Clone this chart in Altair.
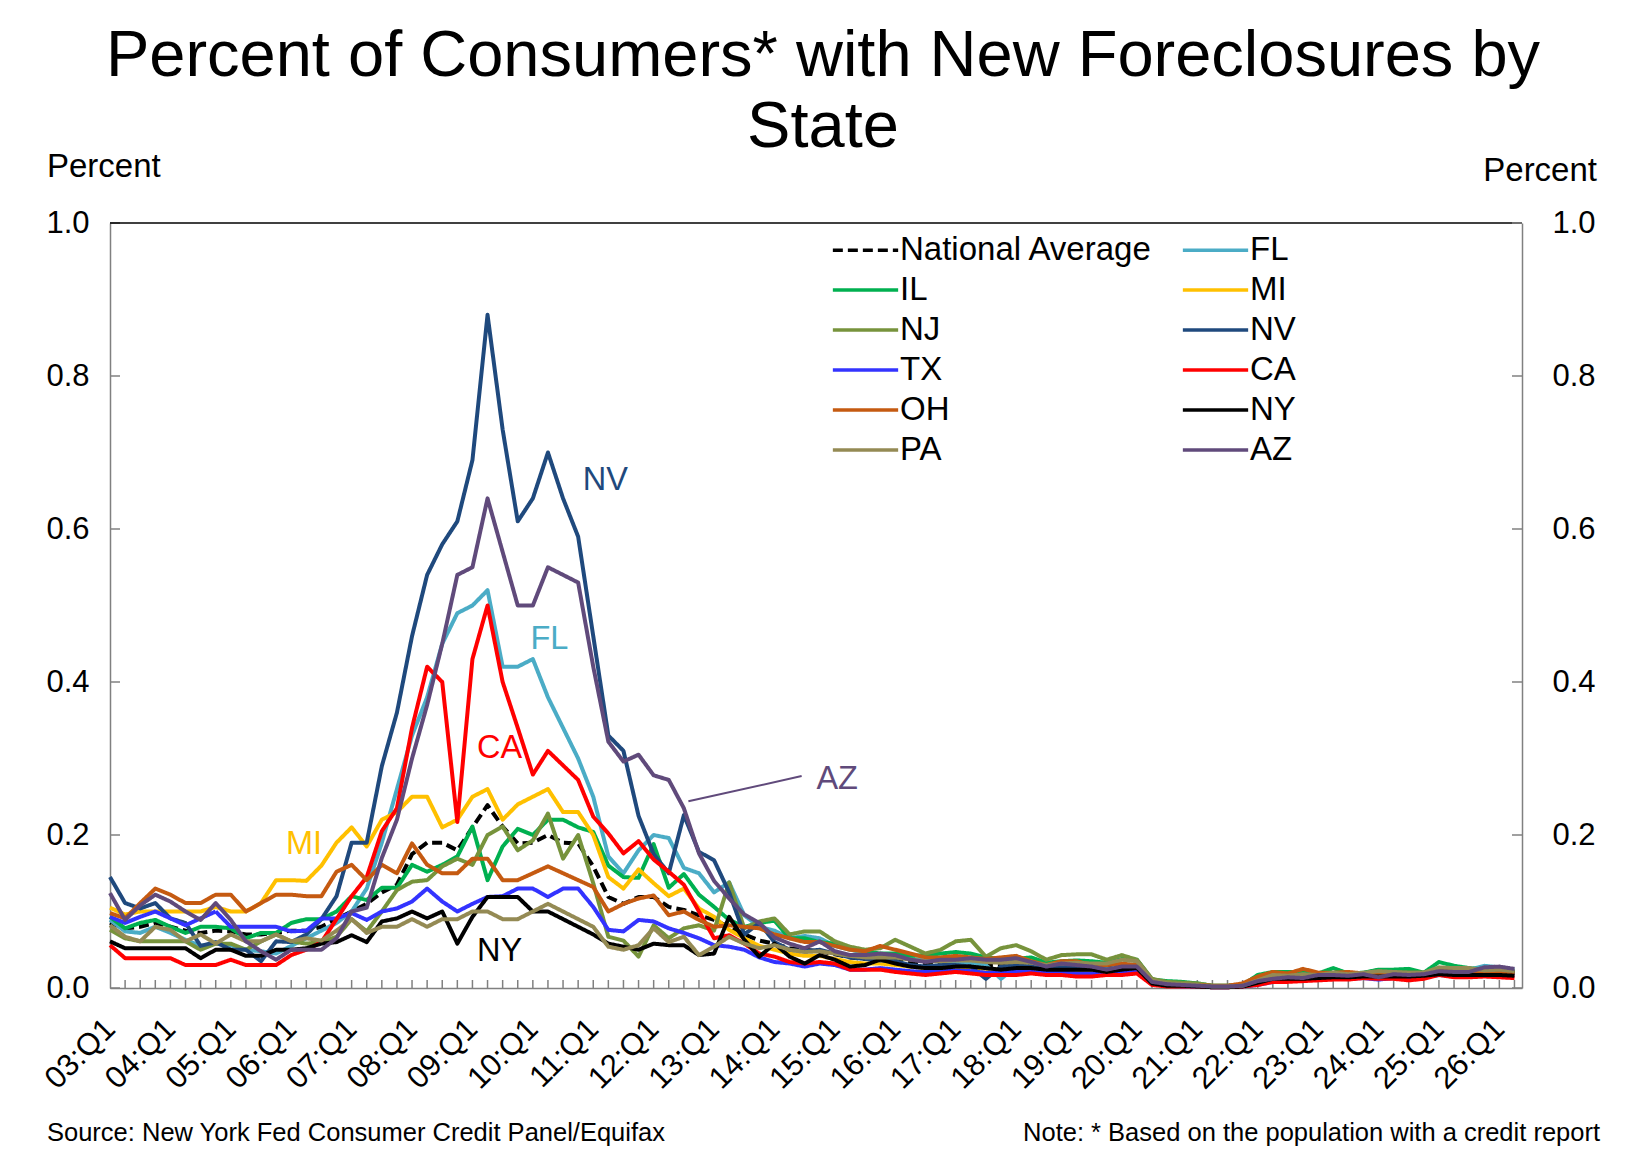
import json
import altair as alt
import pandas as pd

# ---------------- data ----------------
series_names = ["National Average", "FL", "IL", "MI", "NJ", "NV",
                "TX", "CA", "OH", "NY", "PA", "AZ"]
series_colors = ["#000000", "#4BACC6", "#00B050", "#FFC000", "#77933C", "#1F497D",
                 "#3333FF", "#FF0000", "#C55A11", "#000000", "#948A54", "#604A7B"]
series_dash = [[10, 5]] + [[1, 0]] * 11

# quarter index 0 = 03:Q1 ... 93 = 26:Q2
year_labels = ["03:Q1", "04:Q1", "05:Q1", "06:Q1", "07:Q1", "08:Q1", "09:Q1", "10:Q1",
               "11:Q1", "12:Q1", "13:Q1", "14:Q1", "15:Q1", "16:Q1", "17:Q1", "18:Q1",
               "19:Q1", "20:Q1", "21:Q1", "22:Q1", "23:Q1", "24:Q1", "25:Q1", "26:Q1"]
y_ticks = [0.0, 0.2, 0.4, 0.6, 0.8, 1.0]

national = [0.085, 0.078, 0.080, 0.085, 0.080, 0.075, 0.072, 0.075, 0.074, 0.070, 0.070, 0.072, 0.075,
            0.075, 0.080, 0.090, 0.100, 0.110, 0.125, 0.135, 0.175, 0.190, 0.190, 0.180, 0.210, 0.239,
            0.211, 0.189, 0.190, 0.200, 0.190, 0.189, 0.159, 0.119, 0.110, 0.119, 0.119, 0.106, 0.102,
            0.095, 0.089, 0.080, 0.070, 0.062, 0.058, 0.052, 0.050, 0.048, 0.044, 0.040, 0.038, 0.038,
            0.036, 0.034, 0.032, 0.032, 0.033, 0.032, 0.030, 0.030, 0.030, 0.029, 0.027, 0.028, 0.028,
            0.028, 0.027, 0.029, 0.029, 0.008, 0.005, 0.004, 0.003, 0.002, 0.002, 0.003, 0.009, 0.013,
            0.013, 0.014, 0.014, 0.016, 0.015, 0.016, 0.017, 0.017, 0.017, 0.017, 0.021, 0.020, 0.020,
            0.021, 0.021, 0.020]
fl = [0.089, 0.074, 0.072, 0.080, 0.072, 0.063, 0.055, 0.058, 0.056, 0.050, 0.048, 0.045, 0.055,
      0.065, 0.075, 0.085, 0.100, 0.130, 0.190, 0.260, 0.330, 0.380, 0.450, 0.490, 0.500, 0.520,
      0.420, 0.420, 0.430, 0.380, 0.340, 0.300, 0.250, 0.172, 0.150, 0.180, 0.200, 0.196, 0.157,
      0.150, 0.125, 0.138, 0.095, 0.080, 0.075, 0.065, 0.068, 0.065, 0.055, 0.050, 0.046, 0.043,
      0.040, 0.038, 0.036, 0.035, 0.034, 0.033, 0.030, 0.012, 0.028, 0.028, 0.026, 0.027, 0.027,
      0.026, 0.025, 0.027, 0.027, 0.008, 0.005, 0.004, 0.003, 0.002, 0.002, 0.003, 0.006, 0.010,
      0.012, 0.012, 0.014, 0.015, 0.015, 0.017, 0.015, 0.017, 0.017, 0.018, 0.021, 0.020, 0.024,
      0.029, 0.027, 0.024]
il = [0.093, 0.078, 0.085, 0.089, 0.080, 0.072, 0.080, 0.080, 0.078, 0.065, 0.072, 0.072, 0.085,
      0.090, 0.090, 0.100, 0.120, 0.115, 0.131, 0.131, 0.161, 0.152, 0.161, 0.172, 0.211, 0.141,
      0.185, 0.208, 0.200, 0.220, 0.220, 0.210, 0.204, 0.160, 0.145, 0.144, 0.188, 0.131, 0.149,
      0.122, 0.106, 0.089, 0.080, 0.085, 0.088, 0.065, 0.065, 0.060, 0.058, 0.052, 0.048, 0.045,
      0.045, 0.042, 0.043, 0.045, 0.047, 0.045, 0.040, 0.038, 0.038, 0.040, 0.033, 0.035, 0.036,
      0.035, 0.033, 0.038, 0.037, 0.011, 0.009, 0.008, 0.006, 0.003, 0.003, 0.004, 0.017, 0.021,
      0.021, 0.020, 0.019, 0.026, 0.019, 0.020, 0.024, 0.024, 0.025, 0.020, 0.034, 0.029, 0.026,
      0.024, 0.022, 0.021]
mi = [0.105, 0.096, 0.100, 0.100, 0.100, 0.100, 0.100, 0.106, 0.100, 0.100, 0.111, 0.141, 0.141,
      0.140, 0.160, 0.190, 0.210, 0.185, 0.220, 0.230, 0.250, 0.250, 0.210, 0.220, 0.250, 0.260,
      0.220, 0.240, 0.250, 0.260, 0.230, 0.230, 0.200, 0.145, 0.130, 0.155, 0.137, 0.120, 0.130,
      0.104, 0.093, 0.076, 0.065, 0.055, 0.050, 0.045, 0.042, 0.042, 0.038, 0.034, 0.032, 0.032,
      0.030, 0.028, 0.026, 0.026, 0.027, 0.026, 0.025, 0.024, 0.025, 0.024, 0.022, 0.023, 0.023,
      0.022, 0.022, 0.024, 0.025, 0.006, 0.004, 0.003, 0.003, 0.002, 0.002, 0.003, 0.007, 0.011,
      0.012, 0.012, 0.013, 0.014, 0.014, 0.015, 0.014, 0.015, 0.015, 0.016, 0.019, 0.018, 0.018,
      0.019, 0.020, 0.019]
nj = [0.076, 0.065, 0.061, 0.061, 0.061, 0.061, 0.050, 0.058, 0.058, 0.050, 0.061, 0.070, 0.061,
      0.058, 0.060, 0.067, 0.090, 0.074, 0.100, 0.128, 0.139, 0.141, 0.159, 0.169, 0.161, 0.200,
      0.211, 0.180, 0.193, 0.228, 0.169, 0.200, 0.137, 0.067, 0.062, 0.041, 0.082, 0.065, 0.078,
      0.082, 0.075, 0.138, 0.078, 0.087, 0.091, 0.070, 0.074, 0.074, 0.061, 0.054, 0.050, 0.052,
      0.063, 0.054, 0.045, 0.050, 0.061, 0.063, 0.041, 0.052, 0.056, 0.048, 0.037, 0.043, 0.044,
      0.044, 0.037, 0.043, 0.037, 0.012, 0.008, 0.007, 0.006, 0.003, 0.003, 0.004, 0.013, 0.016,
      0.017, 0.017, 0.017, 0.019, 0.018, 0.019, 0.020, 0.020, 0.019, 0.019, 0.025, 0.024, 0.024,
      0.022, 0.022, 0.021]
nv = [0.145, 0.111, 0.104, 0.111, 0.091, 0.085, 0.055, 0.060, 0.050, 0.050, 0.035, 0.061, 0.060,
      0.070, 0.090, 0.120, 0.190, 0.190, 0.290, 0.360, 0.460, 0.540, 0.580, 0.610, 0.690, 0.880,
      0.730, 0.610, 0.640, 0.700, 0.640, 0.590, 0.460, 0.330, 0.310, 0.225, 0.175, 0.150, 0.226,
      0.178, 0.167, 0.125, 0.070, 0.085, 0.060, 0.050, 0.048, 0.050, 0.045, 0.040, 0.038, 0.036,
      0.035, 0.030, 0.028, 0.030, 0.030, 0.028, 0.012, 0.028, 0.030, 0.028, 0.025, 0.027, 0.026,
      0.025, 0.024, 0.026, 0.025, 0.007, 0.004, 0.003, 0.003, 0.002, 0.002, 0.003, 0.005, 0.009,
      0.012, 0.012, 0.013, 0.015, 0.015, 0.016, 0.014, 0.016, 0.015, 0.016, 0.020, 0.019, 0.020,
      0.022, 0.023, 0.022]
tx = [0.093, 0.085, 0.093, 0.100, 0.091, 0.082, 0.091, 0.100, 0.080, 0.080, 0.080, 0.080, 0.074,
      0.075, 0.091, 0.091, 0.098, 0.089, 0.100, 0.104, 0.113, 0.130, 0.113, 0.100, 0.110, 0.119,
      0.120, 0.130, 0.130, 0.119, 0.130, 0.130, 0.106, 0.076, 0.074, 0.089, 0.087, 0.078, 0.072,
      0.065, 0.056, 0.054, 0.050, 0.040, 0.034, 0.032, 0.028, 0.032, 0.030, 0.024, 0.024, 0.026,
      0.024, 0.022, 0.021, 0.022, 0.023, 0.022, 0.020, 0.021, 0.021, 0.021, 0.020, 0.020, 0.019,
      0.019, 0.020, 0.020, 0.021, 0.005, 0.003, 0.002, 0.002, 0.001, 0.001, 0.002, 0.004, 0.008,
      0.009, 0.010, 0.011, 0.012, 0.012, 0.013, 0.011, 0.013, 0.013, 0.014, 0.017, 0.016, 0.017,
      0.018, 0.018, 0.017]
ca = [0.056, 0.039, 0.039, 0.039, 0.039, 0.030, 0.030, 0.030, 0.037, 0.030, 0.030, 0.030, 0.043,
      0.050, 0.060, 0.090, 0.120, 0.145, 0.205, 0.235, 0.340, 0.420, 0.400, 0.217, 0.430, 0.500,
      0.400, 0.340, 0.279, 0.310, 0.291, 0.272, 0.224, 0.202, 0.176, 0.192, 0.168, 0.152, 0.135,
      0.100, 0.065, 0.069, 0.058, 0.045, 0.041, 0.034, 0.032, 0.034, 0.032, 0.024, 0.024, 0.024,
      0.021, 0.019, 0.017, 0.019, 0.021, 0.019, 0.017, 0.017, 0.017, 0.019, 0.017, 0.017, 0.015,
      0.015, 0.017, 0.017, 0.019, 0.004, 0.002, 0.002, 0.002, 0.001, 0.001, 0.002, 0.004, 0.008,
      0.008, 0.009, 0.010, 0.011, 0.011, 0.013, 0.012, 0.012, 0.010, 0.012, 0.017, 0.014, 0.014,
      0.015, 0.014, 0.013]
oh = [0.098, 0.091, 0.111, 0.130, 0.122, 0.111, 0.111, 0.122, 0.122, 0.100, 0.111, 0.122, 0.122,
      0.120, 0.120, 0.152, 0.161, 0.141, 0.161, 0.150, 0.189, 0.161, 0.150, 0.150, 0.169, 0.169,
      0.141, 0.141, 0.150, 0.159, 0.150, 0.141, 0.132, 0.100, 0.110, 0.117, 0.121, 0.095, 0.100,
      0.089, 0.080, 0.082, 0.080, 0.078, 0.070, 0.065, 0.060, 0.060, 0.055, 0.050, 0.048, 0.055,
      0.050, 0.045, 0.040, 0.040, 0.042, 0.040, 0.038, 0.040, 0.042, 0.035, 0.030, 0.035, 0.035,
      0.030, 0.030, 0.032, 0.030, 0.008, 0.005, 0.004, 0.004, 0.003, 0.003, 0.006, 0.015, 0.021,
      0.019, 0.025, 0.020, 0.020, 0.021, 0.019, 0.020, 0.020, 0.020, 0.020, 0.024, 0.022, 0.021,
      0.020, 0.020, 0.019]
ny = [0.061, 0.052, 0.052, 0.052, 0.052, 0.052, 0.039, 0.050, 0.050, 0.042, 0.042, 0.050, 0.050,
      0.052, 0.058, 0.060, 0.069, 0.060, 0.087, 0.091, 0.100, 0.091, 0.100, 0.058, 0.093, 0.119,
      0.119, 0.119, 0.100, 0.100, 0.090, 0.080, 0.070, 0.058, 0.054, 0.050, 0.058, 0.056, 0.056,
      0.043, 0.045, 0.093, 0.063, 0.041, 0.058, 0.041, 0.032, 0.043, 0.037, 0.028, 0.030, 0.037,
      0.032, 0.028, 0.026, 0.026, 0.028, 0.028, 0.026, 0.024, 0.026, 0.026, 0.024, 0.024, 0.024,
      0.024, 0.021, 0.024, 0.026, 0.006, 0.003, 0.003, 0.002, 0.001, 0.001, 0.002, 0.007, 0.012,
      0.012, 0.012, 0.013, 0.014, 0.014, 0.015, 0.015, 0.015, 0.015, 0.016, 0.018, 0.017, 0.017,
      0.017, 0.017, 0.016]
pa = [0.082, 0.067, 0.061, 0.080, 0.076, 0.061, 0.070, 0.058, 0.070, 0.061, 0.061, 0.070, 0.061,
      0.065, 0.062, 0.075, 0.090, 0.072, 0.080, 0.080, 0.090, 0.080, 0.090, 0.090, 0.100, 0.100,
      0.090, 0.090, 0.100, 0.110, 0.100, 0.090, 0.080, 0.054, 0.050, 0.056, 0.078, 0.060, 0.067,
      0.043, 0.054, 0.067, 0.058, 0.052, 0.056, 0.050, 0.047, 0.048, 0.045, 0.042, 0.040, 0.040,
      0.040, 0.037, 0.035, 0.035, 0.036, 0.036, 0.034, 0.033, 0.034, 0.033, 0.030, 0.032, 0.033,
      0.032, 0.032, 0.037, 0.035, 0.010, 0.006, 0.005, 0.004, 0.002, 0.002, 0.003, 0.010, 0.017,
      0.016, 0.018, 0.017, 0.020, 0.018, 0.020, 0.022, 0.021, 0.020, 0.020, 0.027, 0.026, 0.026,
      0.023, 0.024, 0.022]
az = [0.124, 0.089, 0.108, 0.122, 0.113, 0.100, 0.089, 0.111, 0.089, 0.061, 0.048, 0.037, 0.050,
      0.050, 0.050, 0.065, 0.100, 0.105, 0.170, 0.220, 0.300, 0.370, 0.450, 0.540, 0.550, 0.640,
      0.570, 0.500, 0.500, 0.550, 0.540, 0.530, 0.420, 0.322, 0.296, 0.305, 0.278, 0.272, 0.235,
      0.176, 0.140, 0.117, 0.096, 0.085, 0.066, 0.058, 0.052, 0.061, 0.048, 0.043, 0.043, 0.045,
      0.043, 0.037, 0.034, 0.037, 0.037, 0.039, 0.037, 0.037, 0.039, 0.034, 0.028, 0.032, 0.030,
      0.028, 0.024, 0.028, 0.028, 0.008, 0.005, 0.004, 0.003, 0.002, 0.002, 0.003, 0.009, 0.012,
      0.014, 0.013, 0.017, 0.017, 0.016, 0.018, 0.014, 0.018, 0.017, 0.018, 0.022, 0.021, 0.021,
      0.027, 0.028, 0.025]

series_values = [national, fl, il, mi, nj, nv, tx, ca, oh, ny, pa, az]
for vals in series_values:
    assert len(vals) == 94

# annotations (data coordinates: quarter index, percent)
ann_text = ["NV", "FL", "CA", "MI", "NY", "AZ"]
ann_x = [32.8, 29.1, 25.8, 12.85, 25.8, 48.15]
ann_y = [0.664, 0.456, 0.314, 0.188, 0.048, 0.273]
ann_color = ["#1F497D", "#4BACC6", "#FF0000", "#FFC000", "#000000", "#604A7B"]
leader_x, leader_y, leader_x2, leader_y2 = [38.3], [0.244], [45.8], [0.277]

# ---------------- build tables ----------------
rows = []
for name, vals in zip(series_names, series_values):
    for i, v in enumerate(vals):
        rows.append({"series": name, "i": i, "v": v})
df = pd.DataFrame(rows)

W, H = 1412, 765
FONT = "Liberation Sans"
GRAY = "#808080"

x_scale = alt.Scale(domain=[0, 93.5], nice=False, zero=False)
y_scale = alt.Scale(domain=[0, 1], nice=False, zero=True)

label_expr = json.dumps(year_labels) + "[round(datum.value / 4)]"
x_axis = alt.Axis(values=list(range(0, 93, 4)), labelExpr=label_expr, labelAngle=315,
                  labelAlign="right", labelBaseline="middle", labelPadding=36,
                  labelFlush=False, labelOverlap=False, ticks=False, grid=False,
                  domainColor=GRAY, domainWidth=1.5, labelFont=FONT, labelFontSize=31,
                  labelColor="black", title=None)
y_axis_left = alt.Axis(orient="left", values=y_ticks, format=".1f", ticks=False, grid=False,
                       domainColor=GRAY, domainWidth=1.5, labelFont=FONT, labelFontSize=31,
                       labelColor="black", labelPadding=21, title=None)
y_axis_right = alt.Axis(orient="right", values=y_ticks, format=".1f", ticks=False, grid=False,
                        domainColor=GRAY, domainWidth=1.5, labelFont=FONT, labelFontSize=31,
                        labelColor="black", labelPadding=30, title=None)

legend = alt.Legend(title=None, orient="none", direction="horizontal", legendX=721, legendY=10.5,
                    columns=2, columnPadding=28, rowPadding=6, clipHeight=33,
                    symbolType="stroke", symbolSize=4264, symbolStrokeWidth=3.5,
                    labelFont=FONT, labelFontSize=33, labelColor="black", labelOffset=0,
                    padding=0, labelLimit=500)

color_enc = alt.Color("series:N", scale=alt.Scale(domain=series_names, range=series_colors),
                      legend=legend)
dash_enc = alt.StrokeDash("series:N", scale=alt.Scale(domain=series_names, range=series_dash),
                          legend=legend)

layers = []

# inward tick marks and frame
tick_df = pd.DataFrame({"i": list(range(1, 94))})
layers.append(alt.Chart(tick_df).mark_rule(color=GRAY, strokeWidth=1.5).encode(
    x=alt.X("i:Q", scale=x_scale, axis=x_axis), y=alt.value(H), y2=alt.value(H - 8)))
ytick_df = pd.DataFrame({"v": y_ticks})
layers.append(alt.Chart(ytick_df).mark_rule(color=GRAY, strokeWidth=1.5).encode(
    y=alt.Y("v:Q", scale=y_scale, axis=None), x=alt.value(0), x2=alt.value(10)))
one = pd.DataFrame({"a": [0]})
layers.append(alt.Chart(one).mark_rule(color="black", strokeWidth=1.5).encode(
    x=alt.value(0), x2=alt.value(W), y=alt.value(0)))

# series lines, drawn in legend order (AZ on top)
for k, name in enumerate(series_names):
    layers.append(
        alt.Chart(df).transform_filter(alt.datum.series == name)
        .mark_line(strokeWidth=4, strokeJoin="round")
        .encode(x=alt.X("i:Q", scale=x_scale, axis=x_axis),
                y=alt.Y("v:Q", scale=y_scale, axis=y_axis_left if k == 0 else None),
                color=color_enc, strokeDash=dash_enc)
    )

# right axis with its inward ticks
layers.append(alt.Chart(ytick_df).mark_rule(color=GRAY, strokeWidth=1.5).encode(
    y=alt.Y("v:Q", scale=y_scale, axis=y_axis_right), x=alt.value(W), x2=alt.value(W - 10)))

# annotations
ann_df = pd.DataFrame({"t": ann_text, "x": ann_x, "y": ann_y, "c": ann_color})
layers.append(alt.Chart(ann_df).mark_text(font=FONT, fontSize=32.5, align="center",
                                          baseline="middle").encode(
    x=alt.X("x:Q", scale=x_scale, axis=x_axis), y=alt.Y("y:Q", scale=y_scale, axis=None),
    text="t:N", color=alt.Color("c:N", scale=None)))
lead_df = pd.DataFrame({"x": leader_x, "y": leader_y, "x2": leader_x2, "y2": leader_y2})
layers.append(alt.Chart(lead_df).mark_rule(color="#604A7B", strokeWidth=2).encode(
    x=alt.X("x:Q", scale=x_scale, axis=x_axis), y=alt.Y("y:Q", scale=y_scale, axis=None),
    x2="x2:Q", y2="y2:Q"))

# texts outside the plot
title_df = pd.DataFrame({"t": ["Percent of Consumers* with New Foreclosures by", "State"],
                         "yy": [-147, -76]})
layers.append(alt.Chart(title_df).mark_text(font=FONT, fontSize=65, align="center",
                                            baseline="alphabetic", color="black").encode(
    text="t:N", x=alt.value(713), y=alt.Y("yy:Q", scale=None)))
layers.append(alt.Chart(one).mark_text(font=FONT, fontSize=33, align="left", baseline="middle",
                                       color="black", text="Percent").encode(
    x=alt.value(-63), y=alt.value(-56)))
layers.append(alt.Chart(one).mark_text(font=FONT, fontSize=33, align="right", baseline="middle",
                                       color="black", text="Percent").encode(
    x=alt.value(1487), y=alt.value(-52)))
layers.append(alt.Chart(one).mark_text(font=FONT, fontSize=25.5, align="left", baseline="middle",
                                       color="black",
                                       text="Source: New York Fed Consumer Credit Panel/Equifax").encode(
    x=alt.value(-63), y=alt.value(910)))
layers.append(alt.Chart(one).mark_text(font=FONT, fontSize=25.5, align="right", baseline="middle",
                                       color="black",
                                       text="Note: * Based on the population with a credit report").encode(
    x=alt.value(1490), y=alt.value(910)))

chart = (
    alt.layer(*layers)
    .resolve_scale(y="shared", x="shared")
    .resolve_axis(y="independent")
    .properties(width=W, height=H, autosize=alt.AutoSizeParams(type="none"),
                padding={"left": 102, "top": 215, "right": 116, "bottom": 162})
    .configure_view(stroke=None)
)

chart.save("out.html", embed_options={"renderer": "svg", "actions": False})
